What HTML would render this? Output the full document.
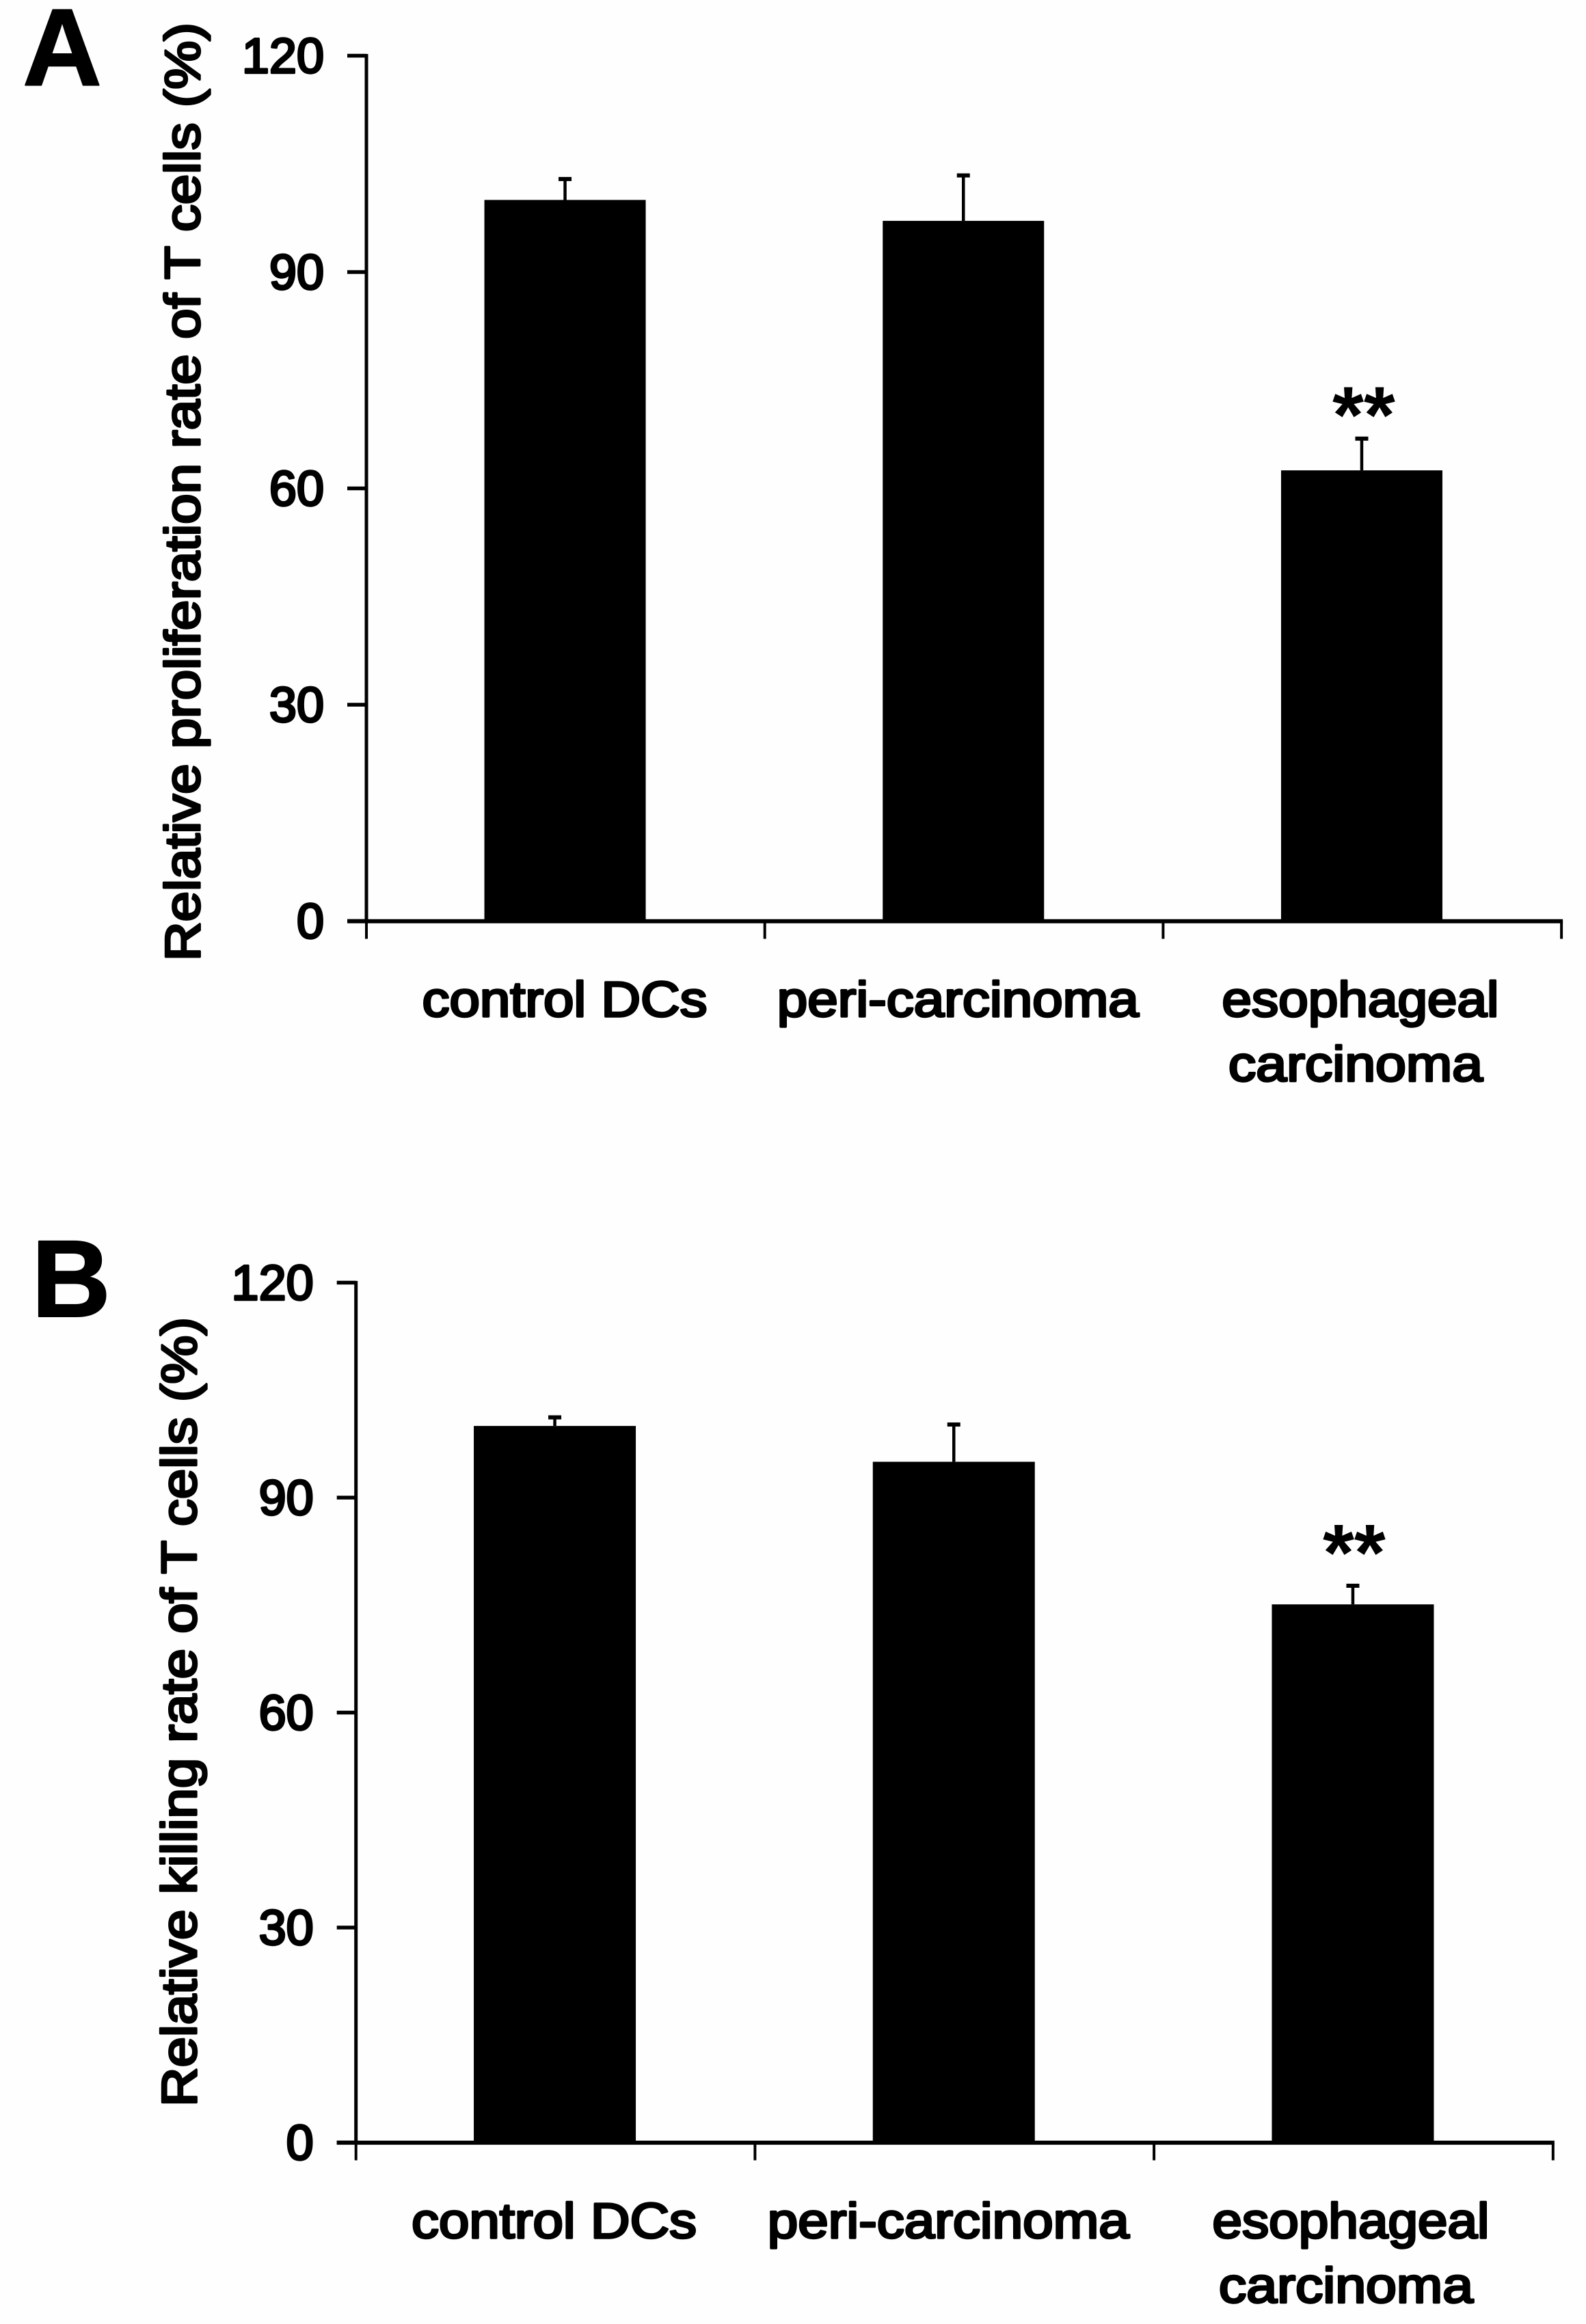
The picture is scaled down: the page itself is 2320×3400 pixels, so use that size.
<!DOCTYPE html>
<html lang="en">
<head>
<meta charset="utf-8">
<title>T cell proliferation and killing rates</title>
<style>
html,body{margin:0;padding:0;background:#fefefe;}
svg{display:block;}
text{font-family:"Liberation Sans",Arial,sans-serif;fill:#000;font-weight:normal;}
.thick{stroke:#000;stroke-width:3.4px;stroke-linejoin:round;}
text.heavy{font-weight:bold;}
text.heavy.thick{stroke-width:2px;}
</style>
</head>
<body>
<svg id="figure" xmlns="http://www.w3.org/2000/svg" width="2320" height="3400" viewBox="0 0 2320 3400">
<rect x="0" y="0" width="2320" height="3400" fill="#fefefe"/>
</svg>
<script>
const categories = ["control DCs", "peri-carcinoma", ["esophageal", "carcinoma"]];
const yTickLabels = [0, 30, 60, 90, 120];
const proliferationValues = [100, 97.1, 62.5];
const proliferationErrors = [2.9, 6.3, 4.4];
const proliferationSignificance = ["", "", "**"];
const killingValues = [100, 95, 75.1];
const killingErrors = [1.2, 5.2, 2.6];
const killingSignificance = ["", "", "**"];

const svg = document.getElementById('figure');
const NS = 'http://www.w3.org/2000/svg';
const FONT_SIZE = 72;
const labelLengths = {"control DCs": 417, "peri-carcinoma": 529, "esophageal": 405, "carcinoma": 372};

function make(tag, attrs, parent, content) {
  const el = document.createElementNS(NS, tag);
  for (const k in attrs) el.setAttribute(k, attrs[k]);
  if (content !== undefined) el.textContent = content;
  parent.appendChild(el);
  return el;
}

function drawPanel(p) {
  const g = make('g', {}, svg);
  
  

  const yScale = v => p.y0 - (v / 120) * (p.y0 - p.y120);
  const xScale = i => p.x0 + (i + 0.5) * p.band + p.barDx;

  const letter = make('text', {'class': 'thick heavy', x: p.letterX, y: p.letterY - 1, 'font-size': 160, 'text-anchor': 'middle'}, g, p.letter);
  
  

  const title = make('text', {
    'class': 'thick',
    transform: 'translate(' + (p.titleX - 1.5) + ',' + p.titleBottom + ') rotate(-90)',
    x: 0, y: 0, 'font-size': FONT_SIZE, textLength: p.titleLength, lengthAdjust: 'spacingAndGlyphs'
  }, g, p.title);
  
  

  const yAxis = make('rect', {x: p.x0 - 2.5, y: yScale(120) - 2.5, width: 5, height: yScale(0) - yScale(120) + 5}, g);
  
  

  const xEnd = p.x0 + p.band * categories.length;
  const xAxis = make('rect', {x: p.x0 - 28, y: yScale(0) - 2.75, width: xEnd - p.x0 + 30, height: 6}, g);
  
  

  yTickLabels.forEach(function (t) {
    const tick = make('rect', {x: p.x0 - 28, y: yScale(t) - 2.75, width: 28, height: 5.5}, g);
    
    
    const label = make('text', {'class': 'thick', x: p.x0 - 62, y: yScale(t) + 25, 'font-size': FONT_SIZE, 'text-anchor': 'end'}, g, String(t));
    
    
  });

  for (let i = 0; i <= categories.length; i++) {
    const tick = make('rect', {x: p.x0 + i * p.band - 2, y: yScale(0), width: 4, height: 26}, g);
    
    
  }

  categories.forEach(function (cat, i) {
    const lines = Array.isArray(cat) ? cat : [cat];
    lines.forEach(function (line, j) {
      const label = make('text', {
        'class': 'thick',
        x: xScale(i) + p.labelDx[i][j] - labelLengths[line] / 2,
        y: p.labelY + j * 94.5 - 1.5,
        'font-size': FONT_SIZE,
        textLength: labelLengths[line],
        lengthAdjust: 'spacingAndGlyphs'
      }, g, line);
      
      
    });
  });

  p.values.forEach(function (v, i) {
    const cx = xScale(i);
    const bar = make('rect', {x: cx - p.barWidth / 2, y: yScale(v), width: p.barWidth, height: yScale(0) - yScale(v)}, g);
    
    

    const top = yScale(v + p.errors[i]);
    const stem = make('rect', {x: cx - 2.25, y: top, width: 4.5, height: yScale(v) - top}, g);
    
    
    const cap = make('rect', {x: cx - 9.5, y: top - 3, width: 19, height: 6}, g);
    
    

    if (p.significance[i]) {
      const star = make('text', {
        'class': 'heavy',
        x: cx + p.starDx,
        y: top - p.starGap,
        'font-size': 118,
        'text-anchor': 'middle'
      }, g, p.significance[i]);
      
      
    }
  });
}

drawPanel({
  name: 'panel-a', letter: 'A', letterX: 91, letterY: 125.5,
  title: 'Relative proliferation rate of T cells (%)',
  titleX: 293.6, titleBottom: 1406, titleLength: 1373,
  x0: 536, band: 582.7, barDx: -0.8, barWidth: 236,
  y0: 1347.5, y120: 81.5, labelY: 1488.4,
  labelDx: [[-0.5], [-8], [-2, -9]],
  starDx: 3, starGap: -6,
  values: proliferationValues, errors: proliferationErrors, significance: proliferationSignificance
});

drawPanel({
  name: 'panel-b', letter: 'B', letterX: 104, letterY: 1927,
  title: 'Relative killing rate of T cells (%)',
  titleX: 288.5, titleBottom: 3082, titleLength: 1155,
  x0: 520.7, band: 583.7, barDx: -1, barWidth: 237,
  y0: 3134.5, y120: 1876.5, labelY: 3275.3,
  labelDx: [[-1], [-8], [-3, -10]],
  starDx: 2, starGap: 8,
  values: killingValues, errors: killingErrors, significance: killingSignificance
});
</script>
</body>
</html>
